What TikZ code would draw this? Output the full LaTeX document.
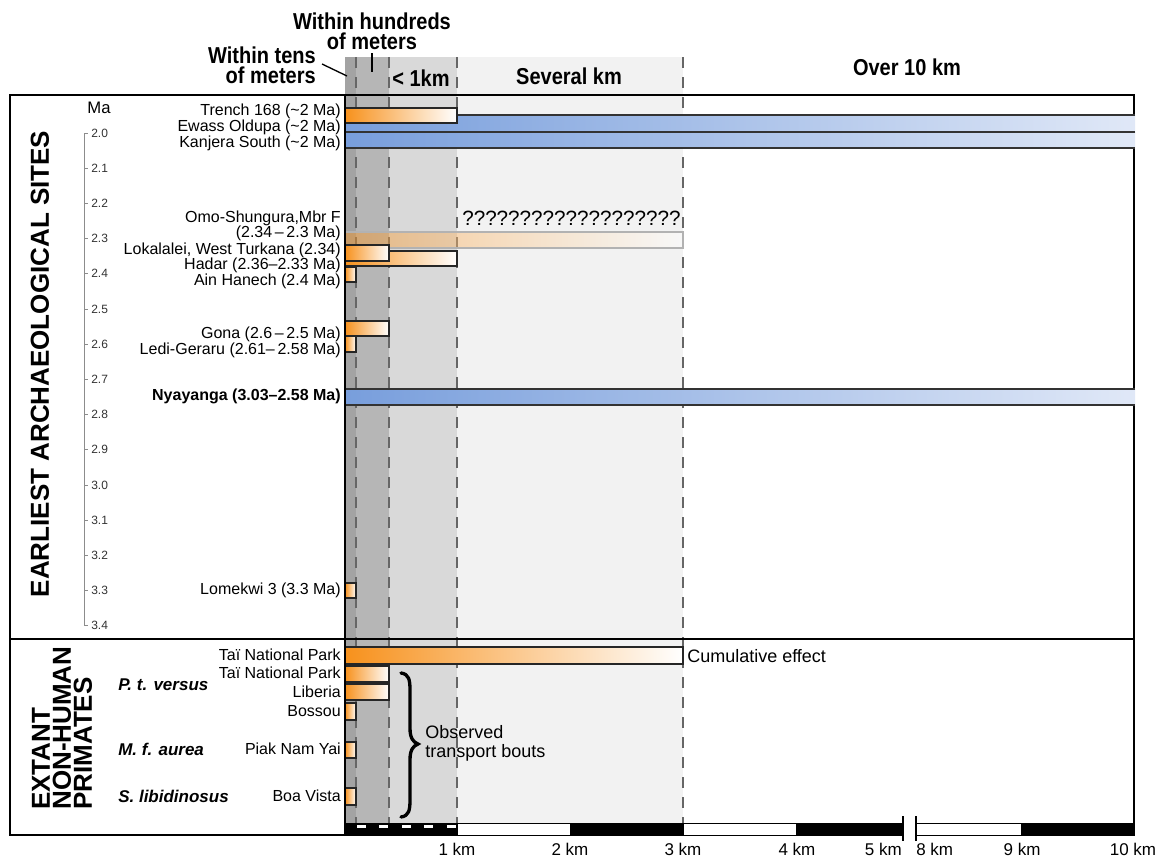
\documentclass[tikz,border=0pt]{standalone}
\usepackage{fontspec}
\setmainfont{Liberation Sans}
\newfontfamily\hdr[FakeStretch=0.87]{Liberation Sans}
\definecolor{orgc}{RGB}{247,145,28}
\definecolor{bluL}{RGB}{120,158,220}
\definecolor{bluR}{RGB}{224,232,247}
\definecolor{bandA}{RGB}{163,163,163}
\definecolor{bandB}{RGB}{182,182,182}
\definecolor{bandC}{RGB}{217,217,217}
\definecolor{bandD}{RGB}{242,242,242}
\tikzset{
  vdash/.style={draw=black!60, line width=0.9pt, dash pattern=on 8pt off 7pt},
  boxline/.style={draw=black, line width=1.5pt},
  obar/.style={draw=black!85, line width=0.8pt, left color=orgc, right color=white},
  bbar/.style={left color=bluL, right color=bluR},
  bedge/.style={draw=black!80, line width=0.8pt},
  lbl/.style={anchor=east, inner sep=0pt, font=\fontsize{12}{11.5}\selectfont},
  spc/.style={anchor=west, inner sep=0pt, font=\bfseries\itshape\fontsize{12.75}{13}\selectfont},
  hdrtxt/.style={inner sep=0pt, font=\hdr\bfseries\fontsize{17.25}{14.8}\selectfont},
  kmlbl/.style={inner sep=0pt, font=\fontsize{12.75}{13}\selectfont},
  ticklbl/.style={anchor=west, inner sep=0pt, text=black!80, font=\fontsize{9}{10}\selectfont},
  pointer/.style={draw=black, line width=1pt},
  sidettl/.style={inner sep=0pt, rotate=90, font=\bfseries\fontsize{19.5}{15.75}\selectfont},
  note/.style={anchor=west, inner sep=0pt, font=\fontsize{13.5}{14.25}\selectfont}
}
\begin{document}
\begin{tikzpicture}[x=0.75pt,y=-0.75pt]
\useasboundingbox (0,0) rectangle (1164,857);
\fill[white] (0,0) rectangle (1164,857);
% distance bands
\fill[bandA] (345,57) rectangle (356,823);
\fill[bandB] (356,57) rectangle (389,823);
\fill[bandC] (389,57) rectangle (457,823);
\fill[bandD] (457,57) rectangle (683,823);
\foreach \xx in {356,389,457,683} \draw[vdash] (\xx,57) -- (\xx,823);
% header texts
\node[hdrtxt, align=center] (hund) at (372,31) {Within hundreds\\of meters};
\node[hdrtxt, align=right, anchor=east] (tens) at (316,65) {Within tens\\of meters};
\node[hdrtxt] (lt1) at (421,78) {< 1km};
\node[hdrtxt] (sev) at (569,76) {Several km};
\node[hdrtxt] (over) at (907,67) {Over 10 km};
\coordinate (t1) at (322,64); \coordinate (t2) at (347,76);
\coordinate (h1) at (372,53); \coordinate (h2) at (372,72);
\draw[pointer] (t1) -- (t2);
\draw[pointer] (h1) -- (h2);
% frame
\draw[boxline] (903,835) -- (10,835) -- (10,95) -- (1134,95) -- (1134,835) -- (916,835);
\draw[boxline] (10,639) -- (1134,639);
% Ma axis
\node[inner sep=0pt, font=\fontsize{12.5}{13}\selectfont] (ma) at (99,108) {Ma};
\draw[black!45, line width=0.6pt] (84,133) -- (84,626);
\foreach \lab [count=\i from 0] in {2.0,2.1,2.2,2.3,2.4,2.5,2.6,2.7,2.8,2.9,3.0,3.1,3.2,3.3,3.4}{
  \pgfmathsetmacro\yy{133+35.2*\i}
  \draw[black!45, line width=0.6pt] (84,\yy) -- (88,\yy);
  \node[ticklbl] (tk\i) at (91,\yy) {\lab};
}
% side titles
\node[sidettl] (eas) at (40,364) {EARLIEST ARCHAEOLOGICAL SITES};
\node[sidettl, anchor=west, align=left] (ext) at (62,810) {EXTANT\\NON-HUMAN\\PRIMATES};
% site labels
\node[lbl] (trench) at (341,111) {Trench 168 (\textasciitilde 2 Ma)};
\node[lbl] (ewass) at (341,127) {Ewass Oldupa (\textasciitilde 2 Ma)};
\node[lbl] (kanj) at (341,143) {Kanjera South (\textasciitilde 2 Ma)};
\node[lbl, align=right] (omo) at (341,226) {Omo-Shungura,Mbr F\\(2.34\,–\,2.3 Ma)};
\node[lbl] (lok) at (341,250) {Lokalalei, West Turkana (2.34)};
\node[lbl] (hadar) at (341,265) {Hadar (2.36–2.33 Ma)};
\node[lbl] (ain) at (341,281) {Ain Hanech (2.4 Ma)};
\node[lbl] (gona) at (341,334) {Gona (2.6\,–\,2.5 Ma)};
\node[lbl] (ledi) at (341,350) {Ledi-Geraru (2.61–\,2.58 Ma)};
\node[lbl, font=\bfseries\fontsize{12}{12}\selectfont] (nya) at (341,396) {Nyayanga (3.03–2.58 Ma)};
\node[lbl] (lom) at (341,590) {Lomekwi 3 (3.3 Ma)};
% primate labels
\node[lbl] (tai1) at (341,655) {Taï National Park};
\node[lbl] (tai2) at (341,673) {Taï National Park};
\node[lbl] (lib) at (341,692) {Liberia};
\node[lbl] (bos) at (341,711) {Bossou};
\node[lbl] (piak) at (341,749) {Piak Nam Yai};
\node[lbl] (boa) at (341,796) {Boa Vista};
\node[spc] (ptv) at (118,685) {P. t. versus};
\node[spc] (mfa) at (118,749) {M. f. aurea};
\node[spc] (sli) at (118,796) {S. libidinosus};
% blue bars
\shade[bbar] (345,115) rectangle (1135,132);
\draw[bedge] (1135,115) -- (345,115) -- (345,132) -- (1135,132);
\shade[bbar] (345,132) rectangle (1135,148);
\draw[bedge] (1135,132) -- (345,132) -- (345,148) -- (1135,148);
\shade[bbar] (345,389) rectangle (1135,405);
\draw[bedge] (1135,389) -- (345,389) -- (345,405) -- (1135,405);
% orange bars
\draw[obar] (345,108) rectangle (457,123);
\draw[draw=black!30, line width=0.8pt, left color=orgc, right color=white, fill opacity=0.45] (345,232) rectangle (683,248);
\draw[obar] (345,251) rectangle (457,266);
\draw[obar] (345,245) rectangle (389,261);
\draw[obar] (345,267) rectangle (356,282);
\draw[obar] (345,321) rectangle (389,336);
\draw[obar] (345,336) rectangle (356,352);
\draw[obar] (345,583) rectangle (356,598);
\draw[obar] (345,647) rectangle (683,664);
\draw[obar] (345,666) rectangle (389,682);
\draw[obar] (345,684) rectangle (389,700);
\draw[obar] (345,703) rectangle (356,720);
\draw[obar] (345,742) rectangle (356,758);
\draw[obar] (345,788) rectangle (356,805);
% notes
\node[anchor=west, inner sep=0pt, font=\fontsize{15.5}{16}\selectfont] (qm) at (462,218) {???????????????????};
\node[note] (cum) at (687,656) {Cumulative effect};
\node[note, align=left] (obs) at (425,743) {Observed\\transport bouts};
\draw[line width=2.5pt, line cap=round] (401,673) .. controls (409,674) and (410,680) .. (410,690) -- (410,728) .. controls (410,738) and (413,742) .. (418,744) .. controls (413,746) and (410,750) .. (410,760) -- (410,800) .. controls (410,810) and (409,816) .. (401,817);
% plot left edge
\draw[line width=1.5pt] (345,95) -- (345,835);
% scale bar
\fill[black] (345,823) rectangle (457,835);
\draw[white, line width=1.6pt, dash pattern=on 6.75pt off 10.1pt] (357,826.5) -- (457,826.5);
\draw[line width=0.6pt, fill=white] (457,823) rectangle (570,835);
\fill[black] (570,823) rectangle (683,835);
\draw[line width=0.6pt, fill=white] (683,823) rectangle (796,835);
\fill[black] (796,823) rectangle (903,835);
\draw[line width=0.6pt, fill=white] (916,823) rectangle (1021,835);
\fill[black] (1021,823) rectangle (1134,835);
\draw[line width=0.8pt] (903,816) -- (903,841);
\draw[line width=0.8pt] (916,816) -- (916,841);
\node[kmlbl] (k1) at (457,849) {1 km};
\node[kmlbl] (k2) at (570,849) {2 km};
\node[kmlbl] (k3) at (683,849) {3 km};
\node[kmlbl] (k4) at (797,849) {4 km};
\node[kmlbl, anchor=east] (k5) at (902,849) {5 km};
\node[kmlbl, anchor=west] (k8) at (916,849) {8 km};
\node[kmlbl] (k9) at (1022,849) {9 km};
\node[kmlbl] (k10) at (1133,849) {10 km};
\end{tikzpicture}
\end{document}
